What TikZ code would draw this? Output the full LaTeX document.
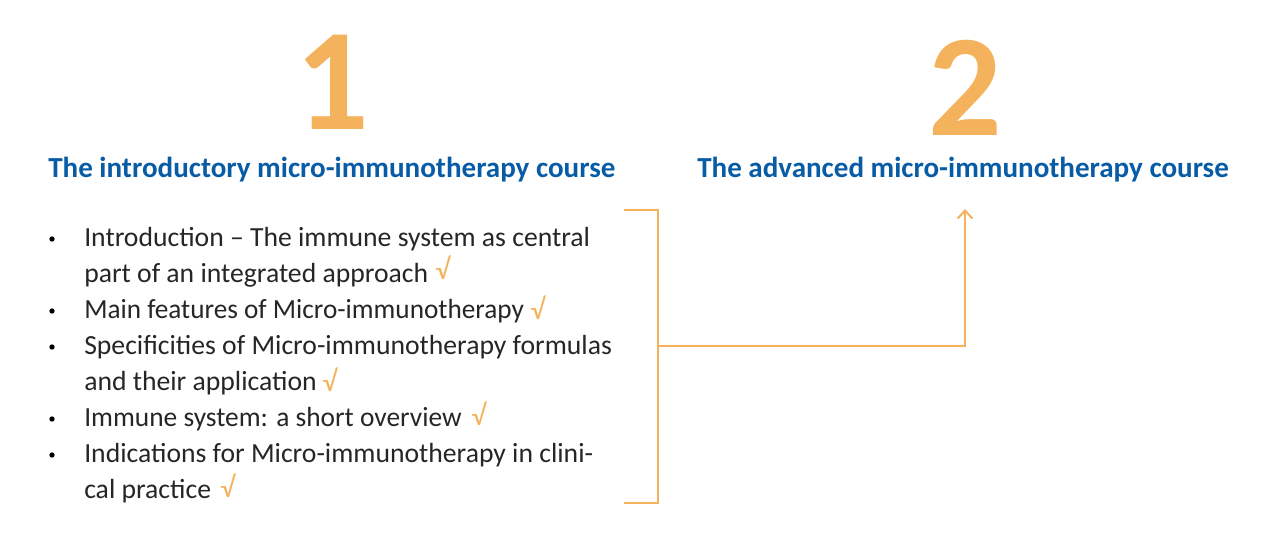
\documentclass[tikz,border=0pt]{standalone}
\usepackage{fontspec}
\setmainfont{Carlito}
\usetikzlibrary{arrows.meta}
\definecolor{MarkClr}{RGB}{245, 178, 92}
\definecolor{TitleClr}{RGB}{8, 92, 166}
\tikzset{
  NumTxt/.style={anchor=base,inner sep=0pt,text=MarkClr,font=\fontsize{109}{109}\selectfont\bfseries},
  TitleTxt/.style={anchor=base west,inner sep=0pt,text=TitleClr,font=\fontsize{21.8}{24}\selectfont\bfseries},
  ItemTxt/.style={anchor=base west,inner sep=0pt,text=black!85,font=\fontsize{20.75}{24}\selectfont},
  TickTxt/.style={anchor=base west,inner sep=0pt,text=MarkClr,font=\fontsize{22}{24}\selectfont},
  BulletDot/.style={circle,fill=black,inner sep=0pt,minimum size=4pt},
  BracketLine/.style={draw=MarkClr,line width=1.5pt},
}

\begin{document}
\begin{tikzpicture}[x=.75pt,y=-.75pt]
\useasboundingbox (0,0) rectangle (1281,540);

\node[NumTxt] (NumA) at (332,129) {1};
\node[NumTxt] (NumB) at (965,135) {2};

\node[TitleTxt] (TitleA) at (48,177) {The introductory micro-immunotherapy course};
\node[TitleTxt] (TitleB) at (697,177) {The advanced micro-immunotherapy course};

\node[ItemTxt] (LineA) at (84,246) {Introduction – The immune system as central};
\node[ItemTxt] (LineB) at (84,282) {part of an integrated approach};
\node[ItemTxt,xscale=.984,transform shape] (LineC) at (84,318) {Main features of Micro-immunotherapy};
\node[ItemTxt] (LineD) at (84,354) {Specificities of Micro-immunotherapy formulas};
\node[ItemTxt] (LineE) at (84,390) {and their application};
\node[ItemTxt,xscale=.99,transform shape] (LineF) at (84,426) {Immune system: a short overview};
\node[ItemTxt] (LineG) at (84,462) {Indications for Micro-immunotherapy in clini-};
\node[ItemTxt] (LineH) at (84,498) {cal practice};

\node[BulletDot] (DotA) at (52,239) {};
\node[BulletDot] (DotB) at (52,311) {};
\node[BulletDot] (DotC) at (52,347) {};
\node[BulletDot] (DotD) at (52,419) {};
\node[BulletDot] (DotE) at (52,455) {};

\node[TickTxt] (TickA) at (435,279) {√};
\node[TickTxt] (TickB) at (530,319) {√};
\node[TickTxt] (TickC) at (322,391) {√};
\node[TickTxt] (TickD) at (471,425) {√};
\node[TickTxt] (TickE) at (220,497) {√};

\coordinate (BrTop) at (624,210);
\coordinate (BrTopR) at (658,210);
\coordinate (BrBot) at (624,503);
\coordinate (BrBotR) at (658,503);
\coordinate (BrMid) at (658,346);
\coordinate (ArrEnd) at (965,209);

\draw[BracketLine] (BrTop) -- (BrTopR) -- (BrBotR) -- (BrBot);
\draw[BracketLine,-{Straight Barb[length=6pt,width=11pt]}] (BrMid) -| (ArrEnd);

\end{tikzpicture}
\end{document}
